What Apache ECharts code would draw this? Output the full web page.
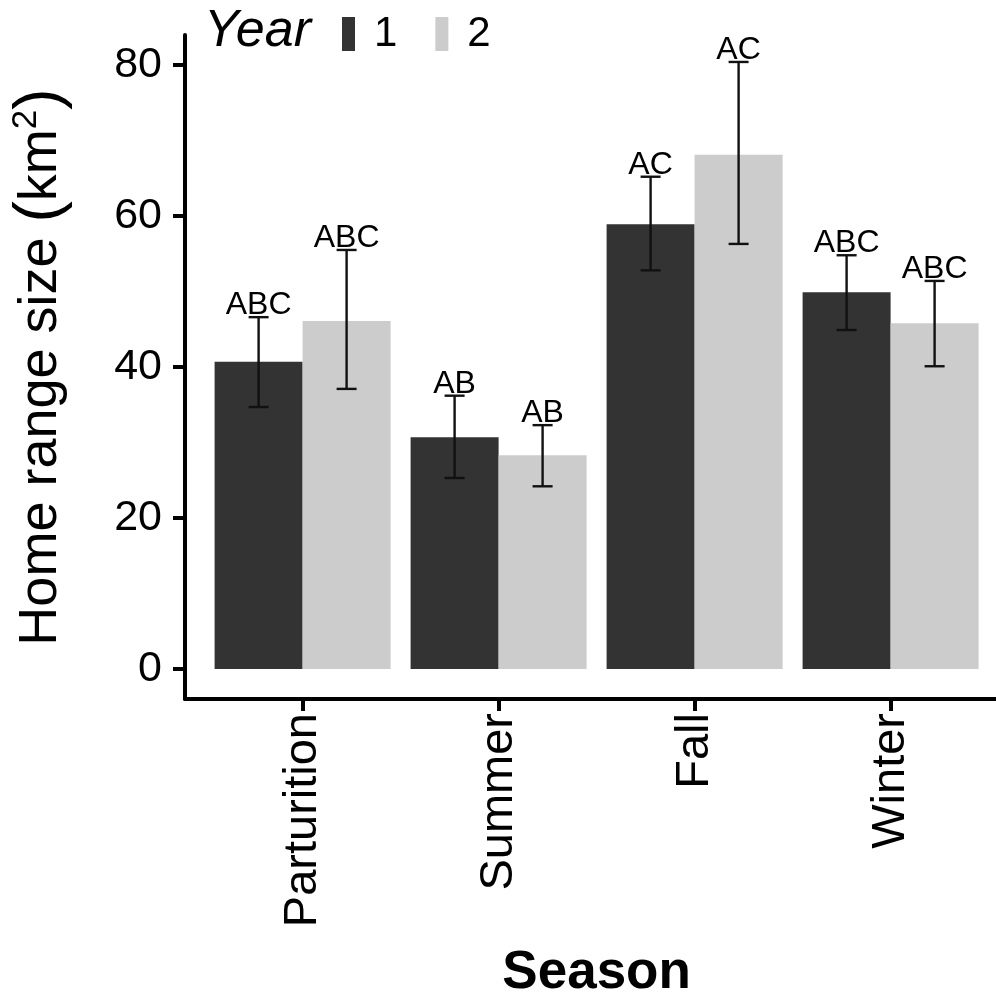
<!DOCTYPE html>
<html>
<head>
<meta charset="utf-8">
<script src="https://cdn.jsdelivr.net/npm/echarts@6/dist/echarts.min.js"></script>
<style>html,body{margin:0;padding:0;background:#fff;}#c{width:996px;height:993px;}</style>
</head>
<body>
<div id="c"></div>
<script>
const categories = ['Parturition', 'Summer', 'Fall', 'Winter'];
const years = ['1', '2'];
const year1Mean = [40.7, 30.7, 58.9, 49.9];
const year2Mean = [46.1, 28.3, 68.1, 45.8];
const year1Low  = [34.7, 25.3, 52.8, 44.9];
const year1High = [46.6, 36.2, 65.2, 54.8];
const year2Low  = [37.1, 24.2, 56.3, 40.1];
const year2High = [55.5, 32.3, 80.4, 51.4];
const year1Letters = ['ABC', 'AB', 'AC', 'ABC'];
const year2Letters = ['ABC', 'AB', 'AC', 'ABC'];
const yTicks = [0, 20, 40, 60, 80];

const FONT = 'Liberation Sans, Arial, Helvetica, sans-serif';
const BAR_W = 88;
const colors = ['#333333', '#cccccc'];

const chart = echarts.init(document.getElementById('c'), null, {renderer: 'canvas'});

function errData(low, high, letters, side) {
  return categories.map((c, i) => [i, low[i], high[i], side, letters[i]]);
}

function renderErr(params, api) {
  const x = api.value(0), lo = api.value(1), hi = api.value(2), side = api.value(3);
  const letter = api.value(4);
  const pLo = api.coord([x, lo]);
  const pHi = api.coord([x, hi]);
  const cx = pLo[0] + side * BAR_W / 2;
  const cap = 10;
  const st = {stroke: '#111', lineWidth: 2.4};
  return {
    type: 'group',
    children: [
      {type: 'line', shape: {x1: cx, y1: pLo[1], x2: cx, y2: pHi[1]}, style: st},
      {type: 'line', shape: {x1: cx - cap, y1: pLo[1], x2: cx + cap, y2: pLo[1]}, style: st},
      {type: 'line', shape: {x1: cx - cap, y1: pHi[1], x2: cx + cap, y2: pHi[1]}, style: st},
      {type: 'text', x: cx, y: pHi[1] + 4, style: {text: letter, fill: '#000', font: '32px ' + FONT, align: 'center', verticalAlign: 'bottom'}}
    ]
  };
}

const option = {
  animation: false,
  backgroundColor: '#fff',
  title: {
    text: 'Year', left: 204, top: 6, padding: 0,
    textStyle: {fontFamily: FONT, fontStyle: 'italic', fontWeight: 'normal', fontSize: 52, color: '#000'}
  },
  legend: {
    data: years, left: 342, top: 13, icon: 'rect', itemWidth: 13, itemHeight: 34, itemGap: 38, padding: 0,
    textStyle: {fontFamily: FONT, fontSize: 42, color: '#000', padding: [0, 0, 0, 14]}
  },
  grid: {left: 185, right: -12.2, top: 35, bottom: 294, containLabel: false, outerBoundsMode: 'none'},
  xAxis: {
    type: 'value', min: -0.6, max: 3.6,
    name: 'Season', nameLocation: 'middle', nameGap: 248,
    nameTextStyle: {fontFamily: FONT, fontWeight: 'bold', fontSize: 53, color: '#000'},
    axisLine: {show: true, onZero: false, lineStyle: {color: '#000', width: 4}},
    axisTick: {show: true, length: 12, lineStyle: {color: '#000', width: 4}, customValues: [0, 1, 2, 3]},
    axisLabel: {
      customValues: [0, 1, 2, 3], rotate: 90, margin: 14,
      fontFamily: FONT, fontSize: 47, color: '#000',
      formatter: v => categories[Math.round(v)]
    },
    splitLine: {show: false}
  },
  yAxis: {
    type: 'value', min: -3.97, max: 83.97,
    name: '{a|Home range size }{p|(}{a|km}{s|2}{p|)}', nameLocation: 'middle', nameGap: 112, nameRotate: 90,
    nameTextStyle: {
      fontFamily: FONT, color: '#000',
      rich: {
        a: {fontFamily: FONT, fontSize: 54, color: '#000'},
        p: {fontFamily: FONT, fontSize: 64, color: '#000'},
        s: {fontFamily: FONT, fontSize: 35, color: '#000', verticalAlign: 'top', padding: [0, 0, 20, 0]}
      }
    },
    axisLine: {show: true, onZero: false, lineStyle: {color: '#000', width: 4}},
    axisTick: {show: true, length: 12, lineStyle: {color: '#000', width: 4}, customValues: yTicks},
    axisLabel: {customValues: yTicks, margin: 23, fontFamily: FONT, fontSize: 43, color: '#000'},
    splitLine: {show: false}
  },
  series: [
    {name: years[0], type: 'bar', barWidth: BAR_W, barGap: '0%', itemStyle: {color: colors[0]},
     data: categories.map((c, i) => [i, year1Mean[i]])},
    {name: years[1], type: 'bar', barWidth: BAR_W, barGap: '0%', itemStyle: {color: colors[1]},
     data: categories.map((c, i) => [i, year2Mean[i]])},
    {type: 'custom', renderItem: renderErr, data: errData(year1Low, year1High, year1Letters, -1), z: 5,
     encode: {x: 0, y: [1, 2]}},
    {type: 'custom', renderItem: renderErr, data: errData(year2Low, year2High, year2Letters, 1), z: 5,
     encode: {x: 0, y: [1, 2]}}
  ]
};
chart.setOption(option);
</script>
</body>
</html>
